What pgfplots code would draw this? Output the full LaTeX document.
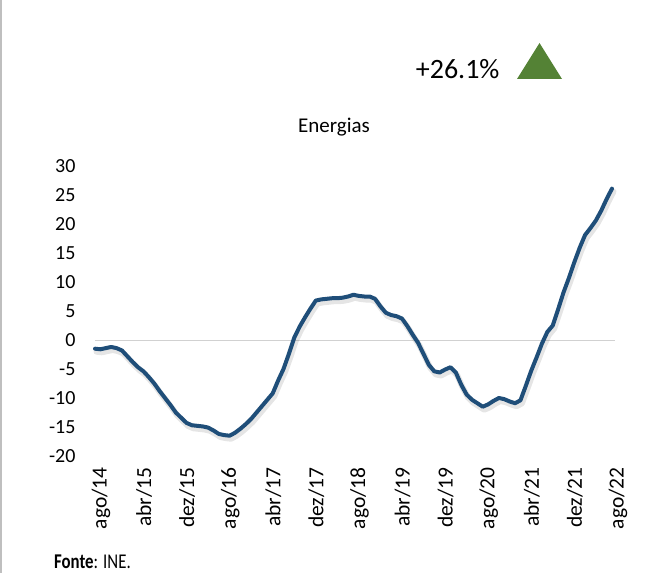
\documentclass[border=0pt]{standalone}
\usepackage{fontspec}
\setmainfont{Carlito}
\newfontfamily\condfont[FakeStretch=0.8]{Carlito}
\usepackage{pgfplots}
\pgfplotsset{compat=1.18}
\definecolor{lineblue}{HTML}{1F4E79}
\definecolor{trigreen}{HTML}{548235}
\pgfplotstableread{
m v
0 -1.5
1 -1.6
2 -1.4
3 -1.2
4 -1.4
5 -1.8
6 -2.8
7 -3.8
8 -4.7
9 -5.4
10 -6.4
11 -7.5
12 -8.8
13 -10.0
14 -11.2
15 -12.5
16 -13.4
17 -14.3
18 -14.7
19 -14.8
20 -14.9
21 -15.1
22 -15.6
23 -16.2
24 -16.4
25 -16.5
26 -16.0
27 -15.3
28 -14.5
29 -13.6
30 -12.5
31 -11.4
32 -10.3
33 -9.2
34 -7.0
35 -5.0
36 -2.4
37 0.4
38 2.3
39 3.9
40 5.4
41 6.8
42 7.0
43 7.1
44 7.2
45 7.2
46 7.3
47 7.5
48 7.8
49 7.6
50 7.5
51 7.5
52 7.1
53 5.8
54 4.7
55 4.3
56 4.1
57 3.7
58 2.4
59 0.9
60 -0.5
61 -2.4
62 -4.3
63 -5.4
64 -5.6
65 -5.1
66 -4.7
67 -5.6
68 -7.7
69 -9.4
70 -10.3
71 -10.9
72 -11.5
73 -11.1
74 -10.5
75 -10.0
76 -10.2
77 -10.6
78 -10.9
79 -10.4
80 -7.9
81 -5.3
82 -3.0
83 -0.6
84 1.4
85 2.5
86 5.3
87 8.2
88 10.7
89 13.4
90 15.9
91 18.1
92 19.3
93 20.6
94 22.3
95 24.3
96 26.1
}\energias
\begin{document}
\begin{tikzpicture}[x=1pt,y=1pt]
\path[use as bounding box] (0,0) rectangle (651,573);
\draw[black!25, line width=1.5pt] (0.75,0) -- (0.75,573);
\node[font=\fontsize{21}{25}\selectfont] at (334,446) {Energias};
\node[font=\fontsize{28}{33}\selectfont, anchor=east] at (503,504) {+26.1\%};
\fill[trigreen] (517,494) -- (562,494) -- (539.5,530) -- cycle;
\node[anchor=base west, font=\condfont\fontsize{21}{24}\selectfont, inner sep=1pt] at (53,4) {\textbf{Fonte}: INE.};
\begin{axis}[
  at={(95pt,117pt)}, anchor=south west, scale only axis,
  width=517pt, height=290pt,
  xmin=0, xmax=96, ymin=-20, ymax=30,
  axis line style={draw=none}, major tick length=0pt,
  ytick={-20,-15,...,30},
  xtick={0,8,...,96},
  xticklabels={ago/14,abr/15,dez/15,ago/16,abr/17,dez/17,ago/18,abr/19,dez/19,ago/20,abr/21,dez/21,ago/22},
  x tick label style={rotate=90, anchor=east, font=\fontsize{21.5}{25}\selectfont, yshift=-6pt, xshift=-8pt},
  y tick label style={font=\fontsize{20}{24}\selectfont, xshift=-16pt},
  /pgf/number format/assume math mode=true,
  clip=false,
]
\draw[black!18, line width=1pt] (axis cs:0,0) -- (axis cs:96.6,0);
\addplot[lineblue, line width=4pt, line join=round, line cap=round,
  preaction={draw=black, opacity=0.10, line width=6pt, transform canvas={shift={(1.5pt,-3pt)}}}]
  table[x=m, y=v] {\energias};
\end{axis}
\end{tikzpicture}
\end{document}
